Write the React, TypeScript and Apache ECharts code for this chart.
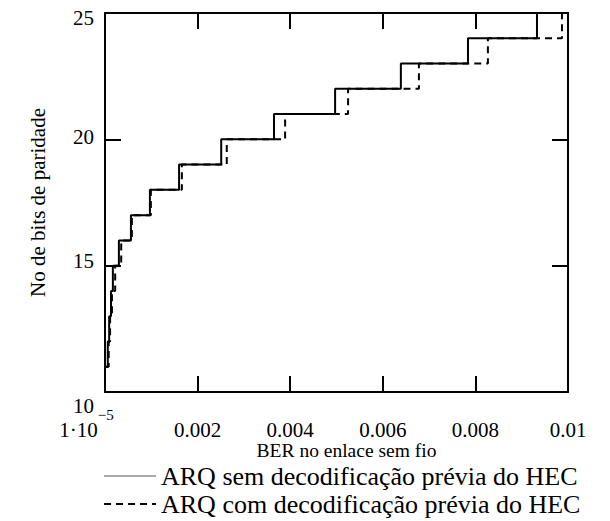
import React, { useEffect, useRef } from "react";
import * as echarts from "echarts";

const FONT = '"Liberation Serif", "Times New Roman", serif';

// BER values where each curve steps up to the next parity-bit count
const berSemHec = [0.00001, 0.00006, 0.00009, 0.00013, 0.00017, 0.0003, 0.00056, 0.00097, 0.0016, 0.00251, 0.00365, 0.00497, 0.00639, 0.00784, 0.00933, 0.01];
const bitsSemHec = [11, 12, 13, 14, 15, 16, 17, 18, 19, 20, 21, 22, 23, 24, 25, 25];

const berComHec = [0.00001, 0.00008, 0.00011, 0.00015, 0.00022, 0.00035, 0.00058, 0.00099, 0.00166, 0.00263, 0.00389, 0.00525, 0.00678, 0.00827, 0.00987, 0.01];
const bitsComHec = [11, 12, 13, 14, 15, 16, 17, 18, 19, 20, 21, 22, 23, 24, 25, 25];

const nameSem = "ARQ sem decodificação prévia do HEC";
const nameCom = "ARQ com decodificação prévia do HEC";

const xTicks = [0, 0.002, 0.004, 0.006, 0.008, 0.01];
const yTicks = [10, 15, 20, 25];

const zip = (xs: number[], ys: number[]) => xs.map((x, i) => [x, ys[i]]);

export default function App() {
  const ref = useRef<HTMLDivElement>(null);

  useEffect(() => {
    const chart = echarts.init(ref.current!, null, { renderer: "svg" });
    const axisLine = { show: true, onZero: false, lineStyle: { color: "#000", width: 2 } };
    const tick = { show: true, inside: true, length: 16, lineStyle: { color: "#000", width: 2 } };

    chart.setOption({
      animation: false,
      backgroundColor: "#fff",
      textStyle: { fontFamily: FONT, color: "#000" },
      grid: { left: 105, top: 13, width: 463, height: 379 },
      xAxis: [
        {
          type: "value",
          position: "bottom",
          min: xTicks[0],
          max: xTicks[xTicks.length - 1],
          interval: 0.002,
          axisLine,
          axisTick: tick,
          splitLine: { show: false },
          axisLabel: {
            margin: 15,
            formatter: (v: number) =>
              v === 0 ? "{base|1·10}{sup|−5}" : "{base|" + String(+v.toFixed(4)) + "}",
            rich: {
              base: { fontSize: 21, lineHeight: 20, fontFamily: FONT, color: "#000", padding: [12, 0, 0, 0], verticalAlign: "top" },
              sup: { fontSize: 15, lineHeight: 15, fontFamily: FONT, color: "#000", padding: [0, 37, 0, 0], verticalAlign: "top" },
            },
          },
          name: "BER no enlace sem fio",
          nameLocation: "middle",
          nameGap: 49,
          nameMoveOverlap: false,
          nameTextStyle: { fontSize: 19.5, lineHeight: 19, fontFamily: FONT, color: "#000", padding: [0, 0, 0, 20] },
        },
        {
          type: "value",
          position: "top",
          min: xTicks[0],
          max: xTicks[xTicks.length - 1],
          interval: 0.002,
          axisLine,
          axisTick: tick,
          splitLine: { show: false },
          axisLabel: { show: false },
        },
      ],
      yAxis: [
        {
          type: "value",
          position: "left",
          min: yTicks[0],
          max: yTicks[yTicks.length - 1],
          interval: 5,
          axisLine,
          axisTick: tick,
          splitLine: { show: false },
          axisLabel: {
            margin: 11,
            formatter: (v: number) => "{t" + v + "|" + v + "}",
            rich: {
              t10: { fontSize: 21, fontFamily: FONT, color: "#000", padding: [28, 0, 0, 0] },
              t15: { fontSize: 21, fontFamily: FONT, color: "#000", padding: [0, 0, 10, 0] },
              t20: { fontSize: 21, fontFamily: FONT, color: "#000", padding: [0, 0, 5, 0] },
              t25: { fontSize: 21, fontFamily: FONT, color: "#000", padding: [10, 0, 0, 0] },
            },
          },
          name: "No de bits de paridade",
          nameLocation: "middle",
          nameGap: 57,
          nameMoveOverlap: false,
          nameTextStyle: { fontSize: 21, fontFamily: FONT, color: "#000" },
        },
        {
          type: "value",
          position: "right",
          min: yTicks[0],
          max: yTicks[yTicks.length - 1],
          interval: 5,
          axisLine,
          axisTick: tick,
          splitLine: { show: false },
          axisLabel: { show: false },
        },
      ],
      legend: {
        orient: "vertical",
        left: 103,
        top: 463,
        height: 58,
        padding: 0,
        itemWidth: 52,
        itemHeight: 14,
        itemGap: 2,
        itemStyle: { opacity: 0 },
        textStyle: { fontSize: 26, lineHeight: 26, fontFamily: FONT, color: "#000" },
        data: [
          { name: nameSem, itemStyle: { opacity: 0 }, lineStyle: { color: "#555", width: 1, type: "solid" } },
          { name: nameCom, itemStyle: { opacity: 0 }, lineStyle: { color: "#000", width: 2, type: [7, 5] } },
        ],
      },
      series: [
        {
          type: "line",
          name: nameCom,
          data: zip(berComHec, bitsComHec),
          step: "end",
          symbol: "none",
          z: 2,
          itemStyle: { color: "#000" },
          lineStyle: { color: "#000", width: 2, type: [7, 5] },
        },
        {
          type: "line",
          name: nameSem,
          data: zip(berSemHec, bitsSemHec),
          step: "end",
          symbol: "none",
          z: 3,
          itemStyle: { color: "#000" },
          lineStyle: { color: "#000", width: 2, type: "solid" },
        },
      ],
    });
    return () => chart.dispose();
  }, []);

  return (
    <div
      ref={ref}
      style={{ position: "absolute", left: 0, top: 0, width: 610, height: 521 }}
    />
  );
}
